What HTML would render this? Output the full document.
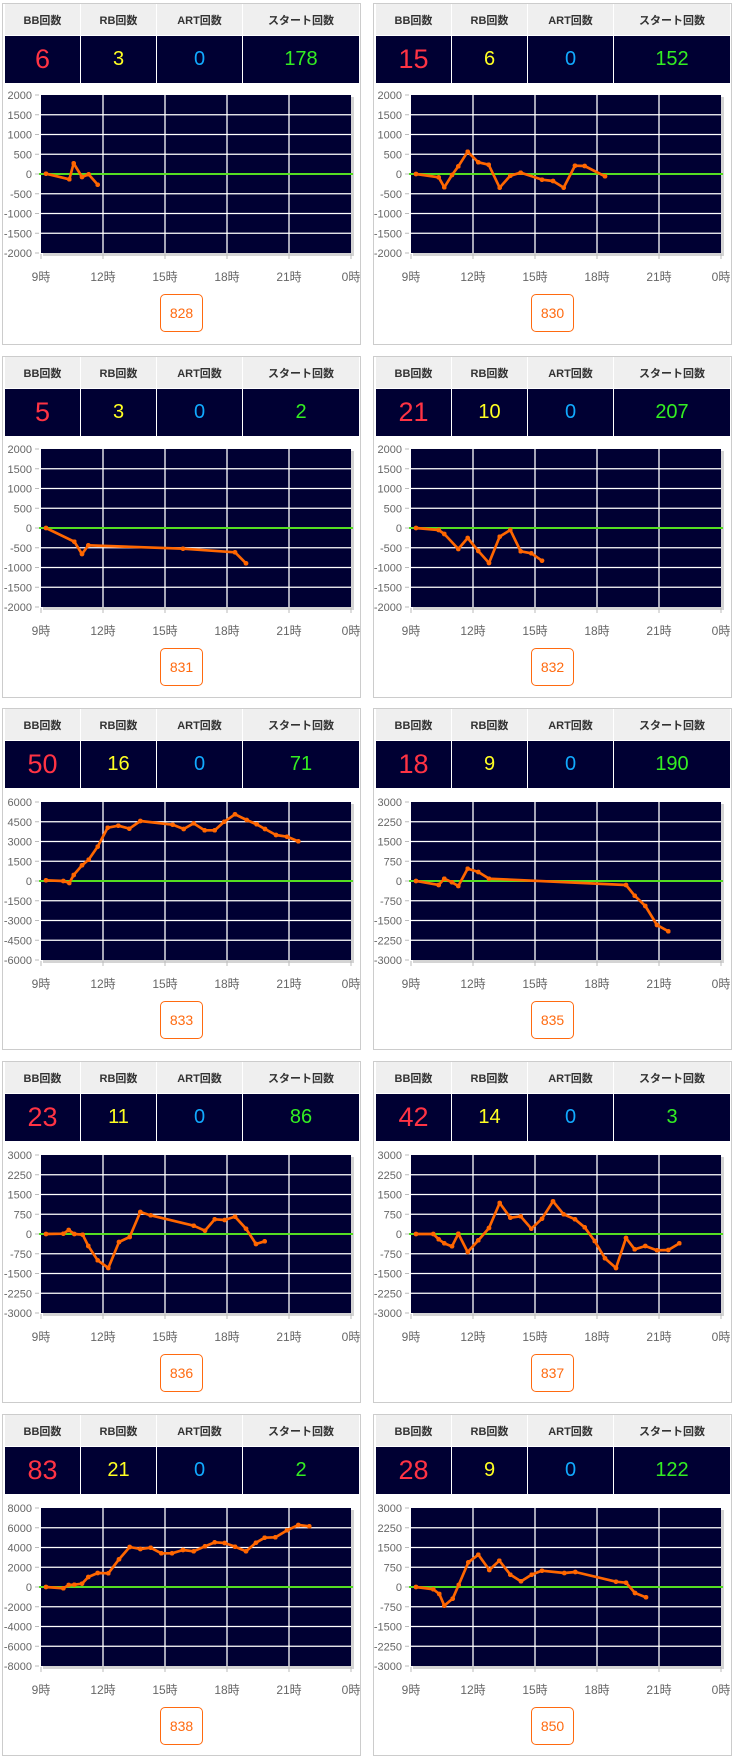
<!DOCTYPE html>
<html><head><meta charset="utf-8"><style>
body{margin:0;width:736px;height:1759px;background:#fff;position:relative;overflow:hidden;font-family:"Liberation Sans","Noto Sans CJK JP",sans-serif}
.p{position:absolute;width:359px;height:342px;box-sizing:border-box;border:1px solid #ccc;background:#fff}
.p table{position:absolute;left:1px;top:0px;width:356px;border-collapse:collapse;table-layout:fixed}
.p th{background:#efefef;height:31px;font-size:11px;font-weight:bold;color:#333;border-left:1px solid #fff;border-right:1px solid #fff;padding:0}
.p td{background:#000033;height:47px;text-align:center;border:1px solid #fff;border-bottom:none;padding:0;font-size:20px}
.p td.bb{color:#ff3344;font-size:27px}.p td.rb{color:#ffff22}.p td.ar{color:#11aaff}.p td.st{color:#33ee22}
.p svg{position:absolute;left:0;top:0}
.yl text{font-size:11px;fill:#666;text-anchor:end}
.xl text{font-size:12px;fill:#666;text-anchor:middle}
.btn{position:absolute;left:157px;width:43px;height:38px;box-sizing:border-box;border:1px solid #ff6a10;border-radius:5px;color:#ff6a10;font-size:14px;text-align:center;line-height:36px}
polyline{fill:none;stroke:#ff6600;stroke-width:8;stroke-linejoin:round;marker-start:url(#m);marker-mid:url(#m);marker-end:url(#m)}
</style></head><body>
<svg width="0" height="0" style="position:absolute"><defs><marker id="m" viewBox="0 0 10 10" refX="5" refY="5" markerWidth="1.8" markerHeight="1.8"><circle cx="5" cy="5" r="5" fill="#ff6600"/></marker>
<g id="base">
<rect x="2" y="2" width="311" height="159" fill="#d4d4d4"/>
<rect width="310" height="158" fill="#000033"/>
<path d="M0 19.75H310M0 39.5H310M0 59.25H310M0 79H310M0 98.75H310M0 118.5H310M0 138.25H310M62 0V158M124 0V158M186 0V158M248 0V158" stroke="#fff" stroke-width="1.3"/>
<path d="M-2 79H312" stroke="#55dd22" stroke-width="2"/>
<path d="M-6 0H-2M-6 19.75H-2M-6 39.5H-2M-6 59.25H-2M-6 79H-2M-6 98.75H-2M-6 118.5H-2M-6 138.25H-2M-6 158H-2M0 159v5M62 159v5M124 159v5M186 159v5M248 159v5M310 159v5" stroke="#bbb" stroke-width="1"/>
<g class="xl"><text x="0" y="186">9時</text><text x="62" y="186">12時</text><text x="124" y="186">15時</text><text x="186" y="186">18時</text><text x="248" y="186">21時</text><text x="310" y="186">0時</text></g>
</g>
<g id="y2000" class="yl"><text x="-9" y="4">2000</text><text x="-9" y="23.75">1500</text><text x="-9" y="43.5">1000</text><text x="-9" y="63.25">500</text><text x="-9" y="83">0</text><text x="-9" y="102.75">-500</text><text x="-9" y="122.5">-1000</text><text x="-9" y="142.25">-1500</text><text x="-9" y="162">-2000</text></g>
<g id="y3000" class="yl"><text x="-9" y="4">3000</text><text x="-9" y="23.75">2250</text><text x="-9" y="43.5">1500</text><text x="-9" y="63.25">750</text><text x="-9" y="83">0</text><text x="-9" y="102.75">-750</text><text x="-9" y="122.5">-1500</text><text x="-9" y="142.25">-2250</text><text x="-9" y="162">-3000</text></g>
<g id="y6000" class="yl"><text x="-9" y="4">6000</text><text x="-9" y="23.75">4500</text><text x="-9" y="43.5">3000</text><text x="-9" y="63.25">1500</text><text x="-9" y="83">0</text><text x="-9" y="102.75">-1500</text><text x="-9" y="122.5">-3000</text><text x="-9" y="142.25">-4500</text><text x="-9" y="162">-6000</text></g>
<g id="y8000" class="yl"><text x="-9" y="4">8000</text><text x="-9" y="23.75">6000</text><text x="-9" y="43.5">4000</text><text x="-9" y="63.25">2000</text><text x="-9" y="83">0</text><text x="-9" y="102.75">-2000</text><text x="-9" y="122.5">-4000</text><text x="-9" y="142.25">-6000</text><text x="-9" y="162">-8000</text></g>
</defs></svg>

<!-- row 1 -->
<div class="p" style="left:2px;top:3px">
<table><tr><th style="width:75px">BB回数</th><th style="width:75px">RB回数</th><th style="width:85px">ART回数</th><th>スタート回数</th></tr><tr><td class="bb">6</td><td class="rb">3</td><td class="ar">0</td><td class="st">178</td></tr></table>
<svg width="359" height="300"><g transform="translate(38,91)"><use href="#base"/><use href="#y2000"/>
<g transform="scale(0.33333) translate(-120,-282)"><polyline points="135,518 205,535 218,487 243,528 263,520 290,551"/></g></g></svg>
<div class="btn" style="top:290px">828</div></div>

<div class="p" style="left:373px;top:3px">
<table><tr><th style="width:75px">BB回数</th><th style="width:75px">RB回数</th><th style="width:85px">ART回数</th><th>スタート回数</th></tr><tr><td class="bb">15</td><td class="rb">6</td><td class="ar">0</td><td class="st">152</td></tr></table>
<svg width="359" height="300"><g transform="translate(37,91)"><use href="#base"/><use href="#y2000"/>
<g transform="scale(0.33333) translate(-15,-18)"><polyline points="30,255 98,265 115,295 138,258 157,232 185,188 217,220 248,227 281,296 313,260 344,251 408,272 441,276 473,296 507,230 536,231 597,262"/></g></g></svg>
<div class="btn" style="top:290px">830</div></div>

<!-- row 2 -->
<div class="p" style="left:2px;top:356px">
<table><tr><th style="width:75px">BB回数</th><th style="width:75px">RB回数</th><th style="width:85px">ART回数</th><th>スタート回数</th></tr><tr><td class="bb">5</td><td class="rb">3</td><td class="ar">0</td><td class="st">2</td></tr></table>
<svg width="359" height="300"><g transform="translate(38,92)"><use href="#base"/><use href="#y2000"/>
<g transform="scale(0.33333) translate(-15,-24)"><polyline points="30,261 115,302 138,339 157,313 441,323 597,334 630,367"/></g></g></svg>
<div class="btn" style="top:291px">831</div></div>

<div class="p" style="left:373px;top:356px">
<table><tr><th style="width:75px">BB回数</th><th style="width:75px">RB回数</th><th style="width:85px">ART回数</th><th>スタート回数</th></tr><tr><td class="bb">21</td><td class="rb">10</td><td class="ar">0</td><td class="st">207</td></tr></table>
<svg width="359" height="300"><g transform="translate(37,92)"><use href="#base"/><use href="#y2000"/>
<g transform="scale(0.33333) translate(-15,-24)"><polyline points="30,261 98,267 115,279 157,324 185,291 217,330 249,366 281,287 313,267 344,331 376,337 408,359"/></g></g></svg>
<div class="btn" style="top:291px">832</div></div>

<!-- row 3 -->
<div class="p" style="left:2px;top:708px">
<table><tr><th style="width:75px">BB回数</th><th style="width:75px">RB回数</th><th style="width:85px">ART回数</th><th>スタート回数</th></tr><tr><td class="bb">50</td><td class="rb">16</td><td class="ar">0</td><td class="st">71</td></tr></table>
<svg width="359" height="300"><g transform="translate(38,93)"><use href="#base"/><use href="#y6000"/>
<g transform="scale(0.33333) translate(-120,-333)"><polyline points="135,568 187,570 205,576 218,552 243,523 263,506 290,467 320,410 352,404 385,413 418,390 515,401 548,414 578,397 611,418 641,418 670,392 702,370 737,387 767,400 792,414 825,432 858,437 892,451"/></g></g></svg>
<div class="btn" style="top:292px">833</div></div>

<div class="p" style="left:373px;top:708px">
<table><tr><th style="width:75px">BB回数</th><th style="width:75px">RB回数</th><th style="width:85px">ART回数</th><th>スタート回数</th></tr><tr><td class="bb">18</td><td class="rb">9</td><td class="ar">0</td><td class="st">190</td></tr></table>
<svg width="359" height="300"><g transform="translate(37,93)"><use href="#base"/><use href="#y3000"/>
<g transform="scale(0.33333) translate(-15,-24)"><polyline points="30,261 98,273 115,254 138,265 157,276 185,224 217,234 249,254 660,273 686,305 718,336 753,393 787,412"/></g></g></svg>
<div class="btn" style="top:292px">835</div></div>

<!-- row 4 -->
<div class="p" style="left:2px;top:1061px">
<table><tr><th style="width:75px">BB回数</th><th style="width:75px">RB回数</th><th style="width:85px">ART回数</th><th>スタート回数</th></tr><tr><td class="bb">23</td><td class="rb">11</td><td class="ar">0</td><td class="st">86</td></tr></table>
<svg width="359" height="300"><g transform="translate(38,93)"><use href="#base"/><use href="#y3000"/>
<g transform="scale(0.33333) translate(-15,-27)"><polyline points="30,264 82,263 98,252 115,264 140,266 157,300 185,343 217,366 249,288 281,273 313,198 344,208 473,239 507,254 536,220 566,222 597,212 630,248 660,294 686,286"/></g></g></svg>
<div class="btn" style="top:292px">836</div></div>

<div class="p" style="left:373px;top:1061px">
<table><tr><th style="width:75px">BB回数</th><th style="width:75px">RB回数</th><th style="width:85px">ART回数</th><th>スタート回数</th></tr><tr><td class="bb">42</td><td class="rb">14</td><td class="ar">0</td><td class="st">3</td></tr></table>
<svg width="359" height="300"><g transform="translate(37,93)"><use href="#base"/><use href="#y3000"/>
<g transform="scale(0.33333) translate(-15,-27)"><polyline points="30,264 82,264 98,280 115,292 138,301 157,263 185,318 217,283 249,246 281,171 313,215 344,211 376,248 408,218 441,166 473,205 507,220 536,244 566,285 597,337 630,366 660,276 686,310 718,300 753,313 787,312 820,292"/></g></g></svg>
<div class="btn" style="top:292px">837</div></div>

<!-- row 5 -->
<div class="p" style="left:2px;top:1414px">
<table><tr><th style="width:75px">BB回数</th><th style="width:75px">RB回数</th><th style="width:85px">ART回数</th><th>スタート回数</th></tr><tr><td class="bb">83</td><td class="rb">21</td><td class="ar">0</td><td class="st">2</td></tr></table>
<svg width="359" height="300"><g transform="translate(38,93)"><use href="#base"/><use href="#y8000"/>
<g transform="scale(0.33333) translate(-15,-27)"><polyline points="30,264 82,268 98,258 115,257 138,254 157,234 185,222 217,223 249,181 281,144 313,150 344,146 376,163 408,163 441,153 473,157 507,142 536,130 566,132 597,143 630,157 660,131 686,116 718,115 753,94 787,78 820,82"/></g></g></svg>
<div class="btn" style="top:292px">838</div></div>

<div class="p" style="left:373px;top:1414px">
<table><tr><th style="width:75px">BB回数</th><th style="width:75px">RB回数</th><th style="width:85px">ART回数</th><th>スタート回数</th></tr><tr><td class="bb">28</td><td class="rb">9</td><td class="ar">0</td><td class="st">122</td></tr></table>
<svg width="359" height="300"><g transform="translate(37,93)"><use href="#base"/><use href="#y3000"/>
<g transform="scale(0.33333) translate(-125,-320)"><polyline points="140,557 192,564 210,578 225,613 250,592 268,551 297,483 327,460 360,506 390,478 423,520 455,540 487,520 518,508 585,515 618,512 740,541 770,544 797,575 830,588"/></g></g></svg>
<div class="btn" style="top:292px">850</div></div>
</body></html>
